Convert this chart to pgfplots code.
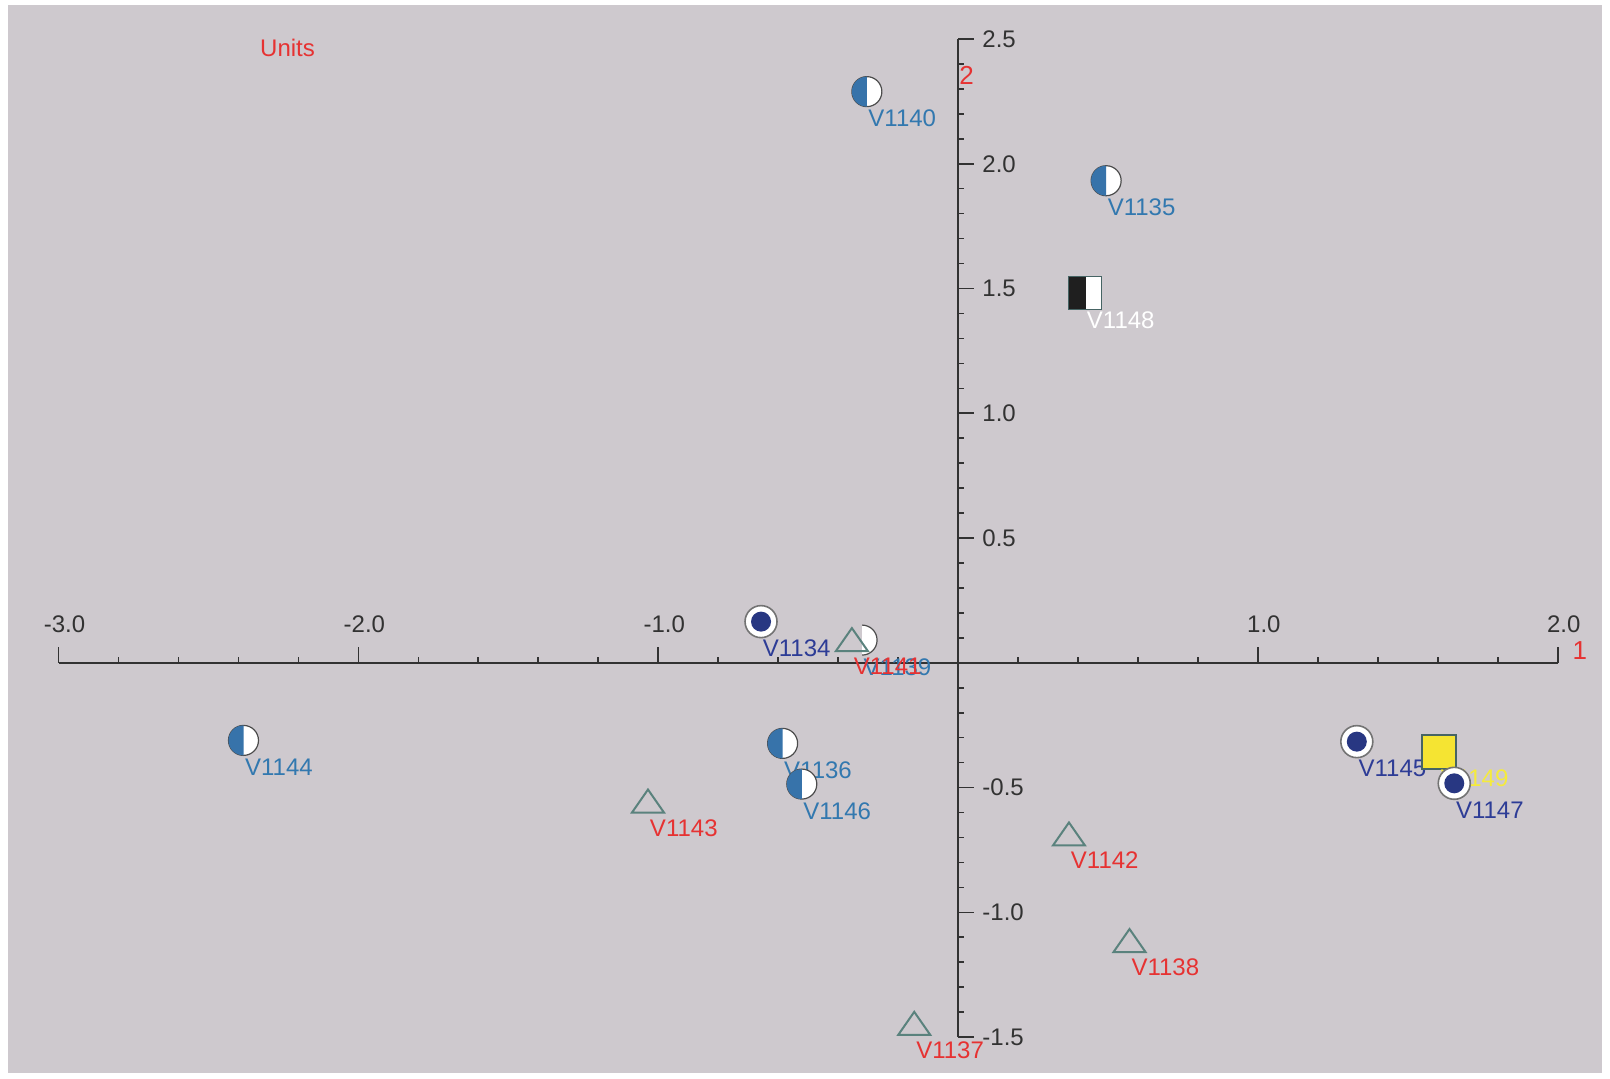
\documentclass[border=0pt]{standalone}
\usepackage{pgfplots}
\pgfplotsset{compat=1.18}
\usepackage{fontspec}
\setmainfont{Liberation Sans}
\definecolor{bgc}{RGB}{206,201,206}
\definecolor{axc}{RGB}{50,50,50}
\definecolor{hblue}{RGB}{55,115,170}
\definecolor{lblue}{RGB}{50,120,175}
\definecolor{dblue}{RGB}{45,60,150}
\definecolor{dotc}{RGB}{40,55,130}
\definecolor{lred}{RGB}{230,50,50}
\definecolor{trig}{RGB}{90,130,125}
\definecolor{sqed}{RGB}{70,100,100}
\definecolor{yel}{RGB}{245,228,50}
\definecolor{ylab}{RGB}{245,235,60}

\pgfdeclareplotmark{halfcirc}{%
 \pgfsetlinewidth{0.6pt}%
 \pgfsetstrokecolor{black!70}%
 \pgfsetfillcolor{white}%
 \pgfpathcircle{\pgfpointorigin}{7.5pt}%
 \pgfusepath{fill,stroke}%
 \pgfsetfillcolor{hblue}%
 \pgfpathmoveto{\pgfpoint{0pt}{7.5pt}}%
 \pgfpatharc{90}{270}{7.5pt}%
 \pgfpathclose
 \pgfusepath{fill}%
}
\pgfdeclareplotmark{rhalf}{%
 \pgfsetfillcolor{white}%
 \pgfpathmoveto{\pgfpoint{0pt}{-7.5pt}}%
 \pgfpatharc{-90}{90}{7.5pt}%
 \pgfpathclose
 \pgfusepath{fill}%
 \pgfsetlinewidth{0.6pt}%
 \pgfsetstrokecolor{black!70}%
 \pgfpathmoveto{\pgfpoint{0pt}{-7.5pt}}%
 \pgfpatharc{-90}{90}{7.5pt}%
 \pgfusepath{stroke}%
}
\pgfdeclareplotmark{cdot}{%
 \pgfsetlinewidth{0.8pt}%
 \pgfsetstrokecolor{black!55}%
 \pgfsetfillcolor{white}%
 \pgfpathcircle{\pgfpointorigin}{8pt}%
 \pgfusepath{fill,stroke}%
 \pgfsetfillcolor{dotc}%
 \pgfpathcircle{\pgfpointorigin}{5pt}%
 \pgfusepath{fill}%
}
\pgfdeclareplotmark{tri}{%
 \pgfsetlinewidth{1pt}%
 \pgfsetstrokecolor{trig}%
 \pgfpathmoveto{\pgfpoint{-8pt}{-5.75pt}}%
 \pgfpathlineto{\pgfpoint{8pt}{-5.75pt}}%
 \pgfpathlineto{\pgfpoint{0pt}{5.75pt}}%
 \pgfpathclose
 \pgfusepath{stroke}%
}
\pgfdeclareplotmark{bwsq}{%
 \pgfsetfillcolor{black!88}%
 \pgfpathrectangle{\pgfpoint{-8.25pt}{-8.25pt}}{\pgfpoint{8.8pt}{16.5pt}}%
 \pgfusepath{fill}%
 \pgfsetfillcolor{white}%
 \pgfpathrectangle{\pgfpoint{0.55pt}{-8.25pt}}{\pgfpoint{7.7pt}{16.5pt}}%
 \pgfusepath{fill}%
 \pgfsetlinewidth{0.8pt}%
 \pgfsetstrokecolor{sqed}%
 \pgfpathrectangle{\pgfpoint{-8.25pt}{-8.25pt}}{\pgfpoint{16.5pt}{16.5pt}}%
 \pgfusepath{stroke}%
}
\pgfdeclareplotmark{ysq}{%
 \pgfsetfillcolor{yel}%
 \pgfsetlinewidth{0.8pt}%
 \pgfsetstrokecolor{sqed}%
 \pgfpathrectangle{\pgfpoint{-8.5pt}{-8.5pt}}{\pgfpoint{17pt}{17pt}}%
 \pgfusepath{fill,stroke}%
}

\pgfplotstableread{
x y lab
-0.304 2.289 V1140
0.494 1.932 V1135
-2.383 -0.311 V1144
-0.585 -0.323 V1136
-0.521 -0.486 V1146
}\halfdata
\pgfplotstableread{
x y lab
-0.320 0.091 V1139
}\halfright
\pgfplotstableread{
x y lab
-0.657 0.165 V1134
1.330 -0.316 V1145
}\dotdataA
\pgfplotstableread{
x y lab
1.655 -0.483 V1147
}\dotdataB
\pgfplotstableread{
x y lab
-0.354 0.093 V1141
-1.034 -0.554 V1143
0.370 -0.686 V1142
0.572 -1.113 V1138
-0.146 -1.445 V1137
}\tridata
\pgfplotstableread{
x y lab
0.424 1.482 V1148
}\bwdata
\pgfplotstableread{
x y lab
1.604 -0.357 V1149
}\ydata

\newcommand{\lf}{\fontsize{12}{14}\selectfont}

\begin{document}
\begin{tikzpicture}
\useasboundingbox (0,0) rectangle (805pt,539.5pt);
\fill[white] (0,0) rectangle (805pt,539.5pt);
\fill[bgc] (4.1pt,3pt) rectangle (801pt,536.95pt);
\begin{axis}[
  at={(29.25pt,20.95pt)}, anchor=south west,
  width=749.6pt, height=499.05pt, scale only axis,
  xmin=-3, xmax=2, ymin=-1.5, ymax=2.5,
  axis lines=middle,
  axis line style={axc, line width=1pt, -},
  every inner x axis line/.append style={-},
  every inner y axis line/.append style={-},
  clip=false,
  xtick={-3,-2,-1,0,1,2},
  xticklabels={-3.0,-2.0,-1.0,,1.0,2.0},
  ytick={-1.5,-1,-0.5,0,0.5,1,1.5,2,2.5},
  yticklabels={-1.5,-1.0,-0.5,,0.5,1.0,1.5,2.0,2.5},
  minor x tick num=4, minor y tick num=4,
  tick align=inside,
  major tick length=8pt, minor tick length=3pt,
  every tick/.style={axc, line width=0.8pt},
  xticklabel style={anchor=base, inner sep=0pt, yshift=15pt, xshift=3pt, font=\lf, text=axc},
  yticklabel style={anchor=west, inner sep=0pt, xshift=12pt, font=\lf, text=axc},
  title={Units},
  every axis title/.style={at={(axis description cs:0.1343,0.9825)}, anchor=base west, inner sep=0pt, text=lred, font=\lf},
  xlabel={1},
  every axis x label/.style={at={(axis description cs:1.0096,0.3788)}, anchor=base west, inner sep=0pt, text=lred, font=\fontsize{13}{15}\selectfont},
  ylabel={2},
  every axis y label/.style={at={(axis description cs:0.6006,0.9547)}, anchor=base west, inner sep=0pt, text=lred, font=\fontsize{13}{15}\selectfont},
  every node near coord/.append style={anchor=base west, inner sep=0pt, xshift=0.5pt, yshift=-17.5pt, font=\lf},
]
\addplot[only marks, mark=halfcirc, nodes near coords, point meta=explicit symbolic,
  every node near coord/.append style={text=lblue}] table[x=x, y=y, meta=lab] {\halfdata};
\addplot[only marks, mark=rhalf, nodes near coords, point meta=explicit symbolic,
  every node near coord/.append style={text=lblue}] table[x=x, y=y, meta=lab] {\halfright};
\addplot[only marks, mark=cdot, nodes near coords, point meta=explicit symbolic,
  every node near coord/.append style={text=dblue}] table[x=x, y=y, meta=lab] {\dotdataA};
\addplot[only marks, mark=ysq, nodes near coords, point meta=explicit symbolic,
  every node near coord/.append style={text=ylab}] table[x=x, y=y, meta=lab] {\ydata};
\addplot[only marks, mark=cdot, nodes near coords, point meta=explicit symbolic,
  every node near coord/.append style={text=dblue}] table[x=x, y=y, meta=lab] {\dotdataB};
\addplot[only marks, mark=tri, nodes near coords, point meta=explicit symbolic,
  every node near coord/.append style={text=lred}] table[x=x, y=y, meta=lab] {\tridata};
\addplot[only marks, mark=bwsq, nodes near coords, point meta=explicit symbolic,
  every node near coord/.append style={text=white}] table[x=x, y=y, meta=lab] {\bwdata};
\end{axis}
\end{tikzpicture}
\end{document}
